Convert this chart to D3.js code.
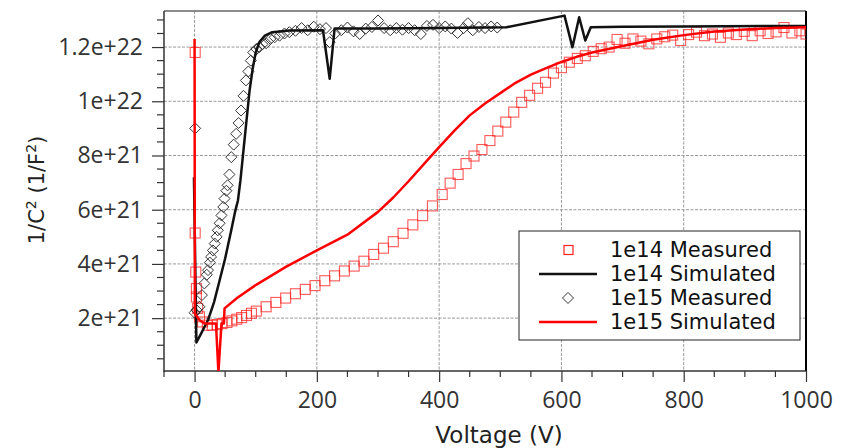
<!DOCTYPE html>
<html><head><meta charset="utf-8">
<script src="https://cdn.jsdelivr.net/npm/d3@7/dist/d3.min.js"></script>
<style>body{margin:0;background:#fff}</style>
</head><body>
<svg id="chart" width="845" height="448"></svg>
<script>
// Values: voltage (V) and 1/C^2 in units of 1e21 (1/F^2)
const measured1e14 = [ // red squares
 [1,11.8],[1,5.14],[2,3.7],[3,3.09],[3,2.78],[5,2.36],[8,2.05],[13,1.86],[21,1.74],[29,1.74],[37,1.76],[45,1.8],
 [53,1.84],[61,1.9],[69,1.96],[77,2.02],[85,2.1],[93,2.18],[101,2.26],[117,2.42],[133,2.58],[149,2.74],[165,2.9],
 [181,3.06],[197,3.2],[213,3.38],[229,3.56],[245,3.74],[261,3.92],[277,4.1],[293,4.35],[309,4.58],[325,4.82],
 [341,5.13],[357,5.44],[373,5.78],[389,6.14],[405,6.56],[418,6.98],[431,7.3],[444,7.7],[457,7.98],[470,8.22],
 [483,8.55],[496,8.9],[509,9.23],[522,9.6],[535,9.96],[548,10.22],[561,10.48],[574,10.7],[587,11.04],[600,11.24],
 [613,11.44],[626,11.58],[639,11.68],[652,11.84],[665,11.94],[678,12.0],[691,12.28],[704,12.14],[717,12.3],
 [730,12.22],[743,12.12],[756,12.3],[769,12.38],[782,12.44],[795,12.24],[808,12.46],[821,12.55],[834,12.42],
 [847,12.48],[860,12.36],[873,12.52],[886,12.46],[899,12.58],[912,12.42],[925,12.6],[938,12.5],[951,12.56],
 [964,12.72],[977,12.52],[990,12.6],[1000,12.48]
];
const simulated1e14 = [ // black line
 [-1,7.2],[3,1.1],[10,1.4],[22,1.93],[32,2.6],[41,3.4],[50,4.2],[60,5.24],[66,5.9],[71,6.35],[75,7.08],[80,8.2],
 [85,9.3],[90,10.4],[95,11.2],[100,11.8],[106,12.18],[115,12.42],[127,12.55],[155,12.61],[210,12.62],[221,10.83],
 [229,12.68],[300,12.68],[400,12.7],[510,12.73],[605,13.16],[618,11.99],[629,13.1],[639,12.24],[648,12.73],
 [700,12.75],[800,12.76],[1000,12.78]
];
const measured1e15 = [ // black diamonds
 [1,9.0],[0,2.2],[3,2.3],[8,2.42],[12,2.85],[16,3.28],[20,3.6],[22,3.77],[25,4.05],[27,4.26],[30,4.5],[33,4.75],
 [36,5.0],[38,5.24],[41,5.5],[44,5.79],[47,6.1],[49,6.41],[52,6.7],[54,6.9],[57,7.3],[60,7.94],[64,8.4],[68,8.8],
 [72,9.2],[76,9.66],[80,10.2],[84,10.77],[88,11.1],[92,11.5],[96,11.8],[101,11.93],[106,12.0],[111,12.1],
 [117,12.14],[124,12.3],[131,12.36],[139,12.42],[147,12.5],[155,12.55],[165,12.6],[175,12.7],[185,12.62],
 [195,12.75],[205,12.66],[215,12.7],[221,12.18],[230,12.5],[240,12.62],[250,12.72],[260,12.58],[270,12.48],
 [280,12.68],[290,12.74],[300,12.98],[310,12.7],[320,12.62],[330,12.7],[340,12.64],[350,12.7],[360,12.62],
 [370,12.48],[380,12.78],[390,12.82],[400,12.7],[410,12.76],[420,12.68],[430,12.52],[440,12.7],[447,12.88],
 [455,12.62],[465,12.74],[475,12.7],[485,12.76],[495,12.72]
];
const simulated1e15 = [ // red line
 [0,12.3],[0.5,2.17],[8,1.93],[16,1.8],[35,1.8],[39,0],[44,1.8],[48,1.8],[49,2.36],[70,2.75],[100,3.22],
 [150,3.9],[200,4.5],[250,5.08],[300,5.92],[325,6.45],[350,7.05],[375,7.68],[400,8.31],[425,8.92],[450,9.48],
 [475,9.92],[500,10.3],[525,10.68],[550,10.98],[575,11.22],[600,11.45],[625,11.64],[650,11.8],[700,12.04],
 [750,12.27],[800,12.44],[850,12.57],[900,12.65],[950,12.7],[1000,12.73]
];
const xTicks = [0,200,400,600,800,1000];
const yTicks = [2,4,6,8,10,12];
const yTickLabels = ["2e+21","4e+21","6e+21","8e+21","1e+22","1.2e+22"];
const legendLabels = ["1e14 Measured","1e14 Simulated","1e15 Measured","1e15 Simulated"];

const L=164,R=806,T=11,B=371;
const svg=d3.select("#chart");
const x=d3.scaleLinear().domain([-50,1000]).range([L,R]);
const y=d3.scaleLinear().domain([0.05,13.33]).range([B,T]);
const tickFont="'Open Sans', sans-serif";

svg.append("defs").append("clipPath").attr("id","clip").append("rect")
  .attr("x",L).attr("y",T).attr("width",R-L).attr("height",B-T);

// grid
const grid=svg.append("g").attr("stroke","#9a9a9a").attr("stroke-width",1).attr("stroke-dasharray","3,1.5");
grid.selectAll("line.v").data(xTicks.filter(d=>d<1000)).join("line").attr("class","v")
  .attr("x1",d=>x(d)).attr("x2",d=>x(d)).attr("y1",T).attr("y2",B);
grid.selectAll("line.h").data(yTicks).join("line").attr("class","h")
  .attr("x1",L).attr("x2",R).attr("y1",d=>y(d)).attr("y2",d=>y(d));

// axes
const xAxis=d3.axisBottom(x).tickValues(xTicks).tickSize(11).tickPadding(10).tickFormat(d3.format("d"));
const gx=svg.append("g").attr("transform",`translate(0,${B})`).call(xAxis);
gx.select(".domain").remove();
gx.selectAll(".tick line").attr("stroke","#333").attr("stroke-width",1.2);
gx.selectAll(".tick text").attr("font-family",tickFont).attr("font-size",23).attr("fill","#333");
const xMinor=d3.range(-50,1001,50).filter(d=>d%200!==0);
svg.append("g").selectAll("line").data(xMinor).join("line")
  .attr("x1",d=>x(d)).attr("x2",d=>x(d)).attr("y1",B).attr("y2",B+6).attr("stroke","#333").attr("stroke-width",1.2);

const yAxis=d3.axisLeft(y).tickValues(yTicks).tickSize(12).tickPadding(9).tickFormat((d,i)=>yTickLabels[i]);
const gy=svg.append("g").attr("transform",`translate(${L},0)`).call(yAxis);
gy.select(".domain").remove();
gy.selectAll(".tick line").attr("stroke","#333").attr("stroke-width",1.2);
gy.selectAll(".tick text").attr("font-family",tickFont).attr("font-size",23).attr("fill","#333");
const yMinor=d3.range(0.5,13.4,0.5).filter(d=>d%2!==0);
svg.append("g").selectAll("line").data(yMinor).join("line")
  .attr("x1",L-7).attr("x2",L).attr("y1",d=>y(d)).attr("y2",d=>y(d)).attr("stroke","#333").attr("stroke-width",1.2);

// frame
svg.append("line").attr("x1",L).attr("x2",R).attr("y1",T).attr("y2",T).attr("stroke","#666").attr("stroke-width",1.5);
svg.append("line").attr("x1",R).attr("x2",R).attr("y1",T).attr("y2",B).attr("stroke","#000").attr("stroke-width",2);
svg.append("line").attr("x1",L).attr("x2",R).attr("y1",B).attr("y2",B).attr("stroke","#333").attr("stroke-width",1.5);
svg.append("line").attr("x1",L).attr("x2",L).attr("y1",T).attr("y2",B+1).attr("stroke","#333").attr("stroke-width",1.5);

// data
const plot=svg.append("g").attr("clip-path","url(#clip)");
const line=d3.line().x(d=>x(d[0])).y(d=>y(d[1]));
const diamond=s=>`M0,${-s}L${s},0L0,${s}L${-s},0Z`;

plot.append("g").selectAll("rect").data(measured1e14).join("rect")
  .attr("x",d=>x(d[0])-5).attr("y",d=>y(d[1])-5).attr("width",10).attr("height",10)
  .attr("fill","none").attr("stroke","#ff2020").attr("stroke-opacity",0.75).attr("stroke-width",1.1);
plot.append("g").selectAll("path").data(measured1e15).join("path")
  .attr("transform",d=>`translate(${x(d[0])},${y(d[1])})`).attr("d",diamond(5.5))
  .attr("fill","none").attr("stroke","#333").attr("stroke-width",1);
plot.append("path").datum(simulated1e14).attr("d",line).attr("fill","none")
  .attr("stroke","#111").attr("stroke-width",2.5).attr("stroke-linejoin","round");
plot.append("path").datum(simulated1e15).attr("d",line).attr("fill","none")
  .attr("stroke","#ff0000").attr("stroke-width",2.5).attr("stroke-linejoin","round");

// titles
svg.append("text").attr("x",499).attr("y",443).attr("text-anchor","middle")
  .attr("font-family","'DejaVu Sans', sans-serif").attr("font-size",23).attr("fill","#222").text("Voltage (V)");
const yt=svg.append("text").attr("transform","translate(44,190) rotate(-90)").attr("text-anchor","middle")
  .attr("font-family","'DejaVu Sans', sans-serif").attr("font-size",21).attr("fill","#222");
yt.append("tspan").text("1/C");
yt.append("tspan").attr("font-size",14).attr("dy",-8).text("2");
yt.append("tspan").attr("dy",8).text(" (1/F");
yt.append("tspan").attr("font-size",14).attr("dy",-8).text("2");
yt.append("tspan").attr("dy",8).text(")");

// legend
const lg=svg.append("g");
lg.append("rect").attr("x",519).attr("y",231).attr("width",281).attr("height",109)
  .attr("fill","#fff").attr("stroke","#222").attr("stroke-width",1);
const rowY=[250,274,298,322];
lg.selectAll("text").data(legendLabels).join("text").attr("x",610).attr("y",(d,i)=>rowY[i]).attr("dy","0.35em")
  .attr("font-family","'DejaVu Sans', sans-serif").attr("font-size",21).attr("fill","#111").text(d=>d);
lg.append("rect").attr("x",564).attr("y",rowY[0]-4.5).attr("width",9).attr("height",9)
  .attr("fill","none").attr("stroke","#ff2020").attr("stroke-width",1.2);
lg.append("line").attr("x1",539).attr("x2",597).attr("y1",rowY[1]).attr("y2",rowY[1]).attr("stroke","#111").attr("stroke-width",2.5);
lg.append("path").attr("transform",`translate(568,${rowY[2]})`).attr("d",diamond(5.5))
  .attr("fill","none").attr("stroke","#333").attr("stroke-width",1);
lg.append("line").attr("x1",539).attr("x2",597).attr("y1",rowY[3]).attr("y2",rowY[3]).attr("stroke","#ff0000").attr("stroke-width",2.5);
</script>
</body></html>
